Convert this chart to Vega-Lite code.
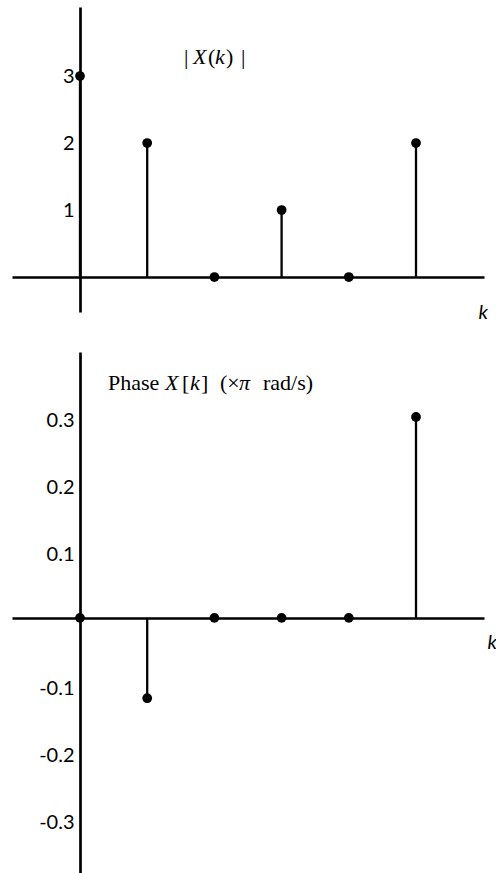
{
  "$schema": "https://vega.github.io/schema/vega-lite/v6.json",
  "background": "white",
  "padding": {"left": 12, "top": 7, "right": 0, "bottom": 0},
  "bounds": "flush",
  "spacing": 40,
  "config": {
    "view": {"stroke": null},
    "text": {"font": "Liberation Serif", "fontSize": 22, "align": "left", "baseline": "alphabetic", "color": "black"},
    "axis": {
      "domainColor": "black",
      "domainWidth": 2.7,
      "domainCap": "butt",
      "ticks": false,
      "grid": false,
      "labelFont": "Lato",
      "labelFontSize": 20,
      "labelColor": "black",
      "titleFont": "Lato",
      "titleFontSize": 20,
      "titleFontStyle": "italic",
      "titleFontWeight": "normal",
      "titleColor": "black"
    }
  },
  "vconcat": [
    {
      "width": 472,
      "height": 305,
      "layer": [
        {
          "data": {"name": "magnitude", "values": [
            {"k": 0, "mag": 3},
            {"k": 1, "mag": 2},
            {"k": 2, "mag": 0},
            {"k": 3, "mag": 1},
            {"k": 4, "mag": 0},
            {"k": 5, "mag": 2}
          ]},
          "layer": [
            {
              "mark": {"type": "rule", "color": "black", "strokeWidth": 2.3},
              "encoding": {
                "x": {
                  "field": "k", "type": "quantitative",
                  "scale": {"domain": [-1.012, 6.012], "nice": false, "zero": false},
                  "axis": {"orient": "bottom", "offset": -35, "labels": false,
                           "title": "k", "titleX": 466, "titleY": 41,
                           "titleAlign": "left", "titleBaseline": "alphabetic", "titleAnchor": null}
                },
                "y": {
                  "field": "mag", "type": "quantitative",
                  "scale": {"domain": [-0.522, 4.03], "nice": false, "zero": false},
                  "axis": {"orient": "left", "offset": -68, "values": [1, 2, 3],
                           "format": "d", "labelPadding": 6, "title": null}
                },
                "y2": {"datum": 0}
              }
            },
            {
              "mark": {"type": "circle", "color": "black", "opacity": 1, "size": 95},
              "encoding": {
                "x": {"field": "k", "type": "quantitative"},
                "y": {"field": "mag", "type": "quantitative"}
              }
            }
          ]
        },
        {"data": {"values": [{"t": "|"}]},
         "mark": {"type": "text", "dx": 0},
         "encoding": {"text": {"field": "t"}, "x": {"datum": 1.548}, "y": {"datum": 3.18}}},
        {"data": {"values": [{"t": "X"}]},
         "mark": {"type": "text", "fontStyle": "italic", "dx": 9},
         "encoding": {"text": {"field": "t"}, "x": {"datum": 1.548}, "y": {"datum": 3.18}}},
        {"data": {"values": [{"t": "("}]},
         "mark": {"type": "text", "dx": 24},
         "encoding": {"text": {"field": "t"}, "x": {"datum": 1.548}, "y": {"datum": 3.18}}},
        {"data": {"values": [{"t": "k"}]},
         "mark": {"type": "text", "fontStyle": "italic", "dx": 31},
         "encoding": {"text": {"field": "t"}, "x": {"datum": 1.548}, "y": {"datum": 3.18}}},
        {"data": {"values": [{"t": ")"}]},
         "mark": {"type": "text", "dx": 42},
         "encoding": {"text": {"field": "t"}, "x": {"datum": 1.548}, "y": {"datum": 3.18}}},
        {"data": {"values": [{"t": "|"}]},
         "mark": {"type": "text", "dx": 57},
         "encoding": {"text": {"field": "t"}, "x": {"datum": 1.548}, "y": {"datum": 3.18}}}
      ]
    },
    {
      "width": 472,
      "height": 521,
      "layer": [
        {
          "data": {"name": "phase", "values": [
            {"k": 0, "phase": 0},
            {"k": 1, "phase": -0.12},
            {"k": 2, "phase": 0},
            {"k": 3, "phase": 0},
            {"k": 4, "phase": 0},
            {"k": 5, "phase": 0.3}
          ]},
          "layer": [
            {
              "mark": {"type": "rule", "color": "black", "strokeWidth": 2.3},
              "encoding": {
                "x": {
                  "field": "k", "type": "quantitative",
                  "scale": {"domain": [-1.012, 6.012], "nice": false, "zero": false},
                  "axis": {"orient": "bottom", "offset": -255, "labels": false,
                           "title": "k", "titleX": 475, "titleY": 30,
                           "titleAlign": "left", "titleBaseline": "alphabetic", "titleAnchor": null}
                },
                "y": {
                  "field": "phase", "type": "quantitative",
                  "scale": {"domain": [-0.381, 0.397], "nice": false, "zero": false},
                  "axis": {"orient": "left", "offset": -68,
                           "values": [-0.3, -0.2, -0.1, 0.1, 0.2, 0.3],
                           "labelExpr": "datum.value < 0 ? '-' + format(-datum.value, '.1f') : format(datum.value, '.1f')",
                           "labelPadding": 6, "labelOffset": 4, "title": null}
                },
                "y2": {"datum": 0}
              }
            },
            {
              "mark": {"type": "circle", "color": "black", "opacity": 1, "size": 95},
              "encoding": {
                "x": {"field": "k", "type": "quantitative"},
                "y": {"field": "phase", "type": "quantitative"}
              }
            }
          ]
        },
        {"data": {"values": [{"t": "Phase"}]},
         "mark": {"type": "text", "dx": 0},
         "encoding": {"text": {"field": "t"}, "x": {"datum": 0.417}, "y": {"datum": 0.3396}}},
        {"data": {"values": [{"t": "X"}]},
         "mark": {"type": "text", "fontStyle": "italic", "dx": 57},
         "encoding": {"text": {"field": "t"}, "x": {"datum": 0.417}, "y": {"datum": 0.3396}}},
        {"data": {"values": [{"t": "["}]},
         "mark": {"type": "text", "dx": 74},
         "encoding": {"text": {"field": "t"}, "x": {"datum": 0.417}, "y": {"datum": 0.3396}}},
        {"data": {"values": [{"t": "k"}]},
         "mark": {"type": "text", "fontStyle": "italic", "dx": 82},
         "encoding": {"text": {"field": "t"}, "x": {"datum": 0.417}, "y": {"datum": 0.3396}}},
        {"data": {"values": [{"t": "]"}]},
         "mark": {"type": "text", "dx": 93},
         "encoding": {"text": {"field": "t"}, "x": {"datum": 0.417}, "y": {"datum": 0.3396}}},
        {"data": {"values": [{"t": "(×"}]},
         "mark": {"type": "text", "dx": 112},
         "encoding": {"text": {"field": "t"}, "x": {"datum": 0.417}, "y": {"datum": 0.3396}}},
        {"data": {"values": [{"t": "π"}]},
         "mark": {"type": "text", "fontStyle": "italic", "dx": 131},
         "encoding": {"text": {"field": "t"}, "x": {"datum": 0.417}, "y": {"datum": 0.3396}}},
        {"data": {"values": [{"t": "rad/s)"}]},
         "mark": {"type": "text", "dx": 155},
         "encoding": {"text": {"field": "t"}, "x": {"datum": 0.417}, "y": {"datum": 0.3396}}}
      ]
    }
  ]
}
